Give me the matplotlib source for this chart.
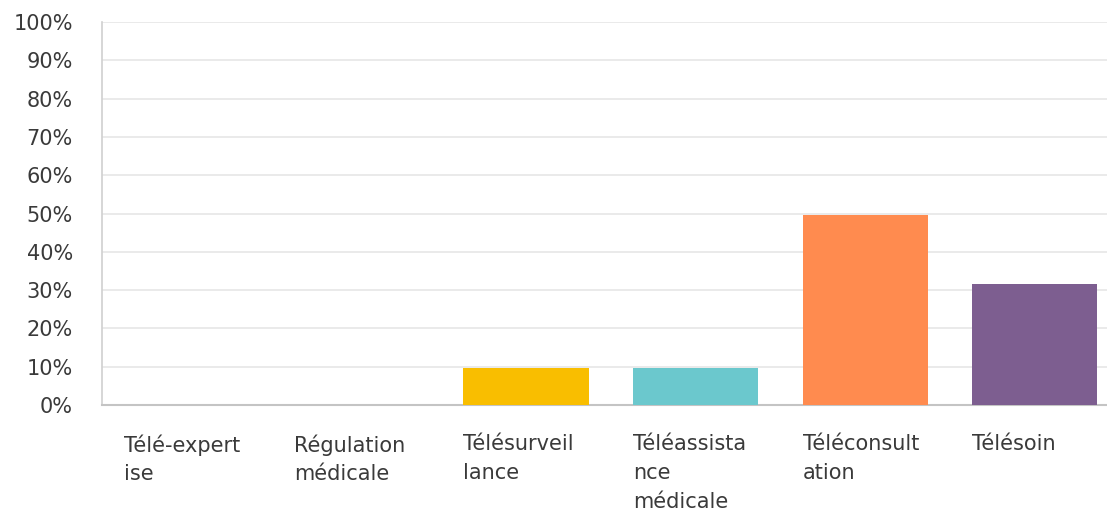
import numpy as np
import matplotlib
matplotlib.use("Agg")
import matplotlib.pyplot as plt

# Données (en %)
categories = ["Télé-expert\nise", "Régulation\nmédicale", "Télésurveil\nlance",
              "Téléassista\nnce\nmédicale", "Téléconsult\nation", "Télésoin"]
values = [0, 0, 9.6, 9.6, 49.7, 31.7]
colors = ["#00BF6F", "#507CB6", "#F9BE00", "#6BC8CD", "#FF8B4F", "#7D5E90"]
yticks = np.arange(0, 101, 10)

fig = plt.figure(figsize=(11.07, 5.09), dpi=100)
ax = fig.add_axes([0.0922, 0.2043, 0.9078, 0.7525])

x = np.arange(len(categories))
bw = 0.738
ax.bar(x, values, width=bw, color=colors, zorder=3)

ax.set_ylim(0, 100)
ax.set_xlim(-0.5, 5.426)
ax.set_yticks(yticks)
ax.set_yticklabels([f"{v}%" for v in yticks], fontsize=15, color="#3a3a3a")
ax.yaxis.grid(True, color="#e8e8e8", linewidth=1.3, zorder=0)

# étiquettes alignées à gauche sur le bord des barres
ax.set_xticks(x - bw / 2)
ax.set_xticklabels(categories, fontsize=15, color="#3a3a3a", ha="left",
                   va="top", linespacing=1.55)
ax.tick_params(axis="both", length=0)
ax.tick_params(axis="y", pad=21)
ax.tick_params(axis="x", pad=21)

for s in ["top", "right"]:
    ax.spines[s].set_visible(False)
ax.spines["left"].set_color("#d0d0d0")
ax.spines["bottom"].set_color("#c4c4c4")
ax.spines["left"].set_linewidth(1.2)
ax.spines["bottom"].set_linewidth(1.5)

fig.savefig("out.png", dpi=100)
